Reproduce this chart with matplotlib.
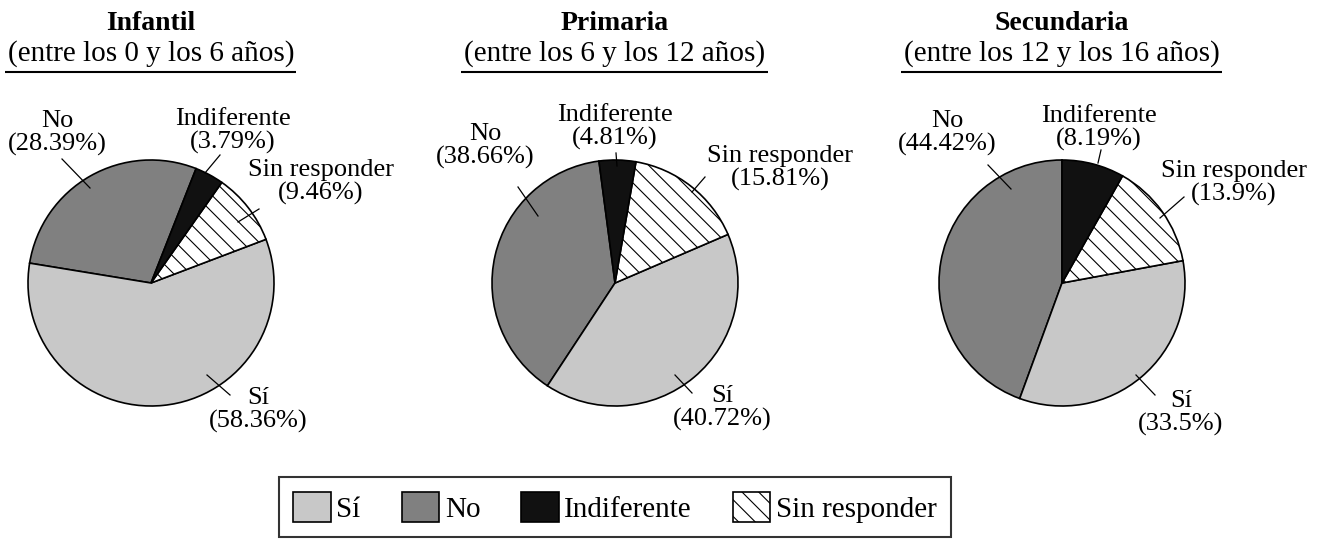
import matplotlib
matplotlib.use('Agg')
import matplotlib.pyplot as plt
from matplotlib.patches import Patch

plt.rcParams['font.family'] = ['Liberation Serif', 'DejaVu Serif']
plt.rcParams['hatch.linewidth'] = 0.8

# Data
categories = ['Sí', 'No', 'Indiferente', 'Sin responder']
infantil = [58.36, 28.39, 3.79, 9.46]
primaria = [40.72, 38.66, 4.81, 15.81]
secundaria = [33.5, 44.42, 8.19, 13.9]
titles = ['Infantil', 'Primaria', 'Secundaria']
subtitles = ['(entre los 0 y los 6 años)',
             '(entre los 6 y los 12 años)',
             '(entre los 12 y los 16 años)']

# Styles
colors = {'Sí': '#c8c8c8', 'No': '#808080', 'Indiferente': '#111111', 'Sin responder': 'white'}
hatches = {'Sí': '', 'No': '', 'Indiferente': '', 'Sin responder': '\\\\'}
draw_order = ['No', 'Sí', 'Sin responder', 'Indiferente']  # counterclockwise

# Layout (pixels, y measured from top)
W, H = 1322, 542
centers = [(151, 283), (615, 283), (1062, 283)]
radius = 123
start_angles = [68.5, 97.5, 90]

# label text offsets and leader lines, relative to pie centre (dx, dy up)
label_pos = [
    {'No': ((-94, 150), (-89, 124), (-61, 95)),
     'Indiferente': ((82, 152), (69, 128), (54, 110)),
     'Sin responder': ((170, 101), (108, 74), (87, 61)),
     'Sí': ((107, -127), (79, -112), (56, -92))},
    {'No': ((-130, 137), (-97, 96), (-77, 67)),
     'Indiferente': ((0, 156), (1, 130), (2, 117)),
     'Sin responder': ((165, 115), (90, 106), (77, 91)),
     'Sí': ((107, -125), (77, -110), (60, -92))},
    {'No': ((-115, 150), (-74, 118), (-51, 94)),
     'Indiferente': ((37, 155), (39, 133), (36, 120)),
     'Sin responder': ((172, 100), (122, 86), (98, 65)),
     'Sí': ((119, -130), (93, -112), (74, -92))},
]

fig = plt.figure(figsize=(W / 100, H / 100), dpi=100)
ax = fig.add_axes([0, 0, 1, 1])

groups = [infantil, primaria, secundaria]
for k, vals in enumerate(groups):
    cx, cy = centers[k]
    cy = H - cy
    v = dict(zip(categories, vals))
    wedges, _ = ax.pie([v[c] for c in draw_order], startangle=start_angles[k],
                       center=(cx, cy), radius=radius,
                       colors=[colors[c] for c in draw_order],
                       wedgeprops=dict(edgecolor='black', linewidth=1.2))
    for w, c in zip(wedges, draw_order):
        w.set_hatch(hatches[c])

    for c in categories:
        (tx, ty), (x1, y1), (x2, y2) = label_pos[k][c]
        ax.text(cx + tx, cy + ty, f"{c}\n({v[c]:g}%)", ha='center', va='center',
                fontsize=19, linespacing=1.0)
        ax.plot([cx + x1, cx + x2], [cy + y1, cy + y2], color='black', linewidth=0.9)

    # titles
    ax.text(cx, H - 30, titles[k], ha='center', va='baseline', fontsize=20, fontweight='bold')
    ax.text(cx, H - 61, subtitles[k], ha='center', va='baseline', fontsize=21)

ax.set_xlim(0, W)
ax.set_ylim(0, H)
ax.set_aspect('auto')
ax.axis('off')

# underline the subtitles
renderer = fig.canvas.get_renderer()
for t in ax.texts:
    if t.get_text() in subtitles:
        bb = t.get_window_extent(renderer)
        ax.plot([bb.x0 - 3, bb.x1 + 2], [H - 72, H - 72], color='black', linewidth=1.5,
                solid_capstyle='butt')

handles = [Patch(facecolor=colors[c], edgecolor='black', hatch=hatches[c], linewidth=1.2)
           for c in categories]
leg = fig.legend(handles, categories, loc='upper center', bbox_to_anchor=(615 / W, 1 - 477 / H),
                 ncol=4, fontsize=21, frameon=True, fancybox=False, handlelength=1.28,
                 handleheight=1.25, handletextpad=0.2, columnspacing=1.4, borderpad=0.5,
                 borderaxespad=0)
leg.get_frame().set_edgecolor('black')
leg.get_frame().set_linewidth(1.5)

fig.savefig('out.png', dpi=100)
